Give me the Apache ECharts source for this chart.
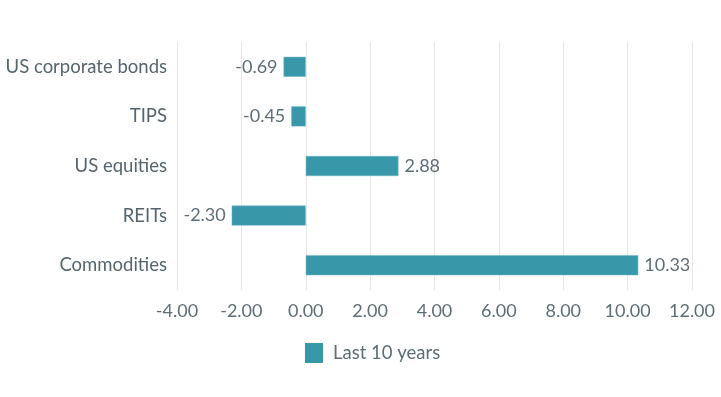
<!DOCTYPE html>
<html>
<head>
<meta charset="utf-8">
<script src="https://cdn.jsdelivr.net/npm/echarts@6/dist/echarts.min.js"></script>
<style>
  html, body { margin: 0; padding: 0; background: #fff; }
  #chart { width: 721px; height: 397px; }
</style>
</head>
<body>
<div id="chart"></div>
<script>
  // data, top row first
  const categories = ['US corporate bonds', 'TIPS', 'US equities', 'REITs', 'Commodities']
  const values = [-0.69, -0.45, 2.88, -2.30, 10.33]
  const seriesName = 'Last 10 years'

  const barColor = '#3898aa'
  const textColor = '#5e6e77'

  let myChart = echarts.init(document.getElementById('chart'))
  myChart.setOption({
    animation: false,
    grid: {
      left: 177,
      right: 29,
      top: 42,
      bottom: 107,
      containLabel: false
    },
    legend: {
      top: 338,
      left: 300,
      icon: 'rect',
      itemWidth: 18,
      itemHeight: 20,
      itemStyle: { borderWidth: 0 },
      textStyle: { color: textColor, fontSize: 18.5, fontFamily: 'Lato', padding: [0, 0, 0, 5] },
      data: [seriesName]
    },
    xAxis: {
      type: 'value',
      min: -4,
      max: 12,
      interval: 2,
      axisLine: { show: false },
      axisTick: { show: false },
      splitLine: { show: true, lineStyle: { color: '#e6e6e6', width: 1 } },
      axisLabel: {
        color: textColor,
        fontSize: 18,
        fontFamily: 'Lato',
        margin: 12,
        formatter: function (v) { return v.toFixed(2) }
      }
    },
    yAxis: {
      type: 'category',
      inverse: true,
      data: categories,
      axisLine: { show: false },
      axisTick: { show: false },
      axisLabel: {
        color: '#55656e',
        fontSize: 18.5,
        fontFamily: 'Lato',
        margin: 10
      }
    },
    series: [
      {
        name: seriesName,
        type: 'bar',
        data: values.map(v => ({
          value: v,
          label: { position: v < 0 ? 'left' : 'right' }
        })),
        barWidth: 20,
        itemStyle: { color: barColor, borderColor: '#6fb5c2', borderWidth: 0.5 },
        label: {
          show: true,
          distance: 6,
          color: textColor,
          fontSize: 18,
          fontFamily: 'Lato',
          formatter: p => p.value.toFixed(2)
        }
      }
    ]
  })
</script>
</body>
</html>
